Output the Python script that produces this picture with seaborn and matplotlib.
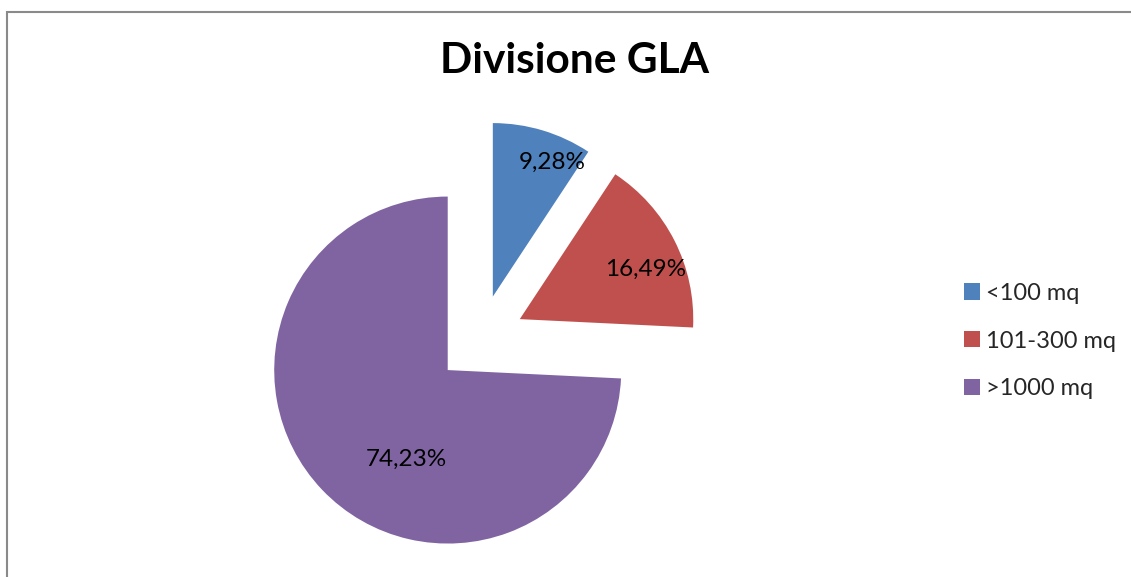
import matplotlib
matplotlib.use("Agg")
import matplotlib.pyplot as plt
import seaborn as sns
from matplotlib.patches import Rectangle

categories = ["<100 mq", "101-300 mq", ">1000 mq"]
values = [9.28, 16.49, 74.23]
value_labels = ["9,28%", "16,49%", "74,23%"]
title = "Divisione GLA"
colors = ["#4F81BD", "#C0504D", "#8064A2"]

sns.set_theme(style="white")
plt.rcParams["font.family"] = ["Lato", "DejaVu Sans"]

W, H = 1131, 577
fig = plt.figure(figsize=(W / 100, H / 100), dpi=100)
fig.patch.set_facecolor("white")

# pie axes: center at (480, 339) px, 173.5 px per unit
cx, cy, unit = 480.0, 339.3, 173.5
half = 2.0
ax = fig.add_axes([(cx - half * unit) / W, (H - cy - half * unit) / H,
                   2 * half * unit / W, 2 * half * unit / H])

wedges, _ = ax.pie(values, colors=colors, startangle=90, counterclock=False,
                   explode=[0.257] * 3, radius=1.0,
                   wedgeprops=dict(linewidth=0))
ax.set_xlim(-half, half)
ax.set_ylim(-half, half)
ax.set_aspect("auto")
ax.axis("off")
for w in wedges:
    w.set_clip_on(False)

label_pos = [(0.418, 1.02), (0.952, 0.405), (-0.426, -0.69)]
for txt, (x, y) in zip(value_labels, label_pos):
    ax.text(x, y, txt, ha="center", va="center", fontsize=17.5, color="black")

fig.text(574 / W, 1 - 61 / H, title, ha="center", va="center",
         fontsize=30.5, fontweight="bold", color="black")

leg = fig.legend(wedges, categories, loc="center left",
                 bbox_to_anchor=(964 / W, 1 - 341 / H), frameon=False,
                 fontsize=17, handlelength=0.68, handleheight=0.68,
                 handletextpad=0.25, labelspacing=1.13, borderpad=0,
                 borderaxespad=0)

fig.add_artist(Rectangle((6.5 / W, -0.1), 1.2, (H - 11.5) / H + 0.1,
                         transform=fig.transFigure, fill=False,
                         edgecolor="#8a8a8a", linewidth=1.5))

fig.savefig("out.png", dpi=100)
